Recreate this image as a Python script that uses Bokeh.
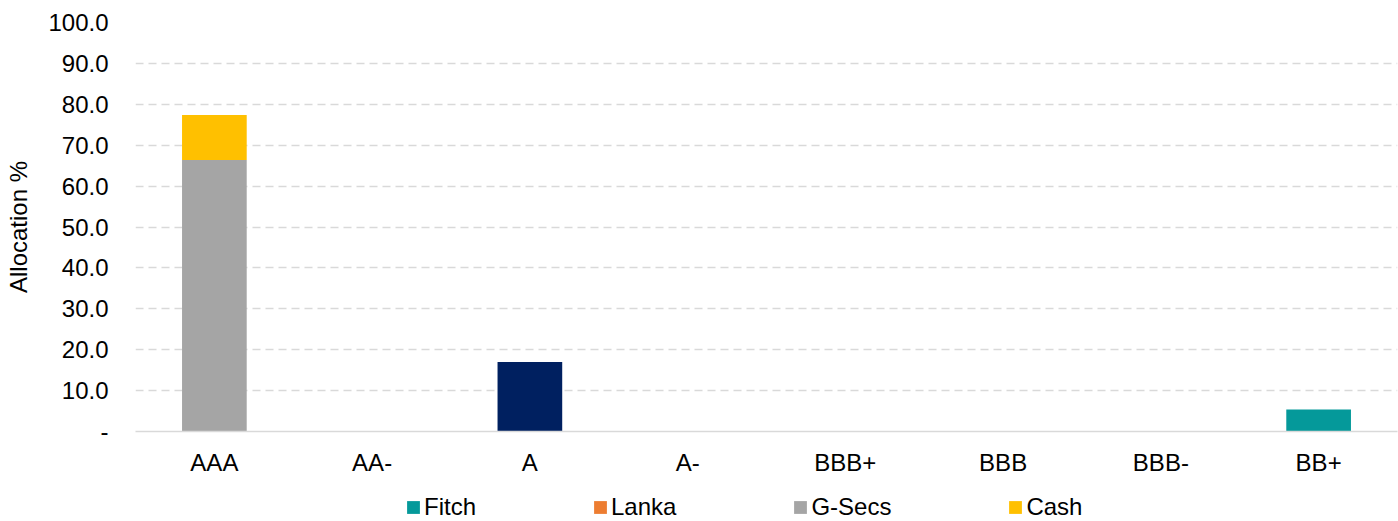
from bokeh.plotting import figure
from bokeh.layouts import column
from bokeh.models import (Range1d, FixedTicker, NumeralTickFormatter, Legend,
                          LegendItem, ColumnDataSource)
from bokeh.embed import file_html
from bokeh.resources import INLINE

# ---- data ----
categories = ["AAA", "AA-", "A", "A-", "BBB+", "BBB", "BBB-", "BB+"]
fitch = [0, 0, 0, 0, 0, 0, 0, 5.4]
lanka = [0, 0, 0, 0, 0, 0, 0, 0]
gsecs = [66.4, 0, 0, 0, 0, 0, 0, 0]
cash = [11.0, 0, 0, 0, 0, 0, 0, 0]
other = [0, 0, 17.0, 0, 0, 0, 0, 0]   # navy bar (no legend entry)
y_ticks = [0, 10, 20, 30, 40, 50, 60, 70, 80, 90, 100]

series_keys = ["fitch", "lanka", "gsecs", "cash", "other"]
series_labels = ["Fitch", "Lanka", "G-Secs", "Cash", None]
colors = ["#05999A", "#ED7D31", "#A5A5A5", "#FFC000", "#002060"]

FONT = "Liberation Sans"
FS = "24px"
W = 1398
H_MAIN = 478
H_LEG = 43

src = ColumnDataSource(dict(cat=categories, fitch=fitch, lanka=lanka,
                            gsecs=gsecs, cash=cash, other=other))

p = figure(x_range=categories, y_range=Range1d(0, 100),
           width=W, height=H_MAIN, output_backend="svg",
           toolbar_location=None,
           min_border_left=135, min_border_right=1,
           min_border_top=22, min_border_bottom=47)
p.outline_line_color = None

rs = p.vbar_stack(series_keys, x="cat", width=0.41, color=colors,
                  line_width=0, source=src)

# axes
p.yaxis.ticker = FixedTicker(ticks=y_ticks)
p.yaxis.formatter = NumeralTickFormatter(format="0.0")
p.yaxis.major_label_overrides = {0: "-"}
p.yaxis.axis_line_color = None
p.yaxis.major_label_standoff = 27
p.yaxis.axis_label = "Allocation %"
p.yaxis.axis_label_text_font_style = "normal"
p.yaxis.axis_label_text_font = FONT
p.yaxis.axis_label_text_font_size = FS
p.yaxis.axis_label_text_color = "black"
p.yaxis.axis_label_standoff = 13

for ax in (p.xaxis, p.yaxis):
    ax.major_label_text_font = FONT
    ax.major_label_text_font_size = FS
    ax.major_label_text_color = "black"
    ax.major_tick_line_color = None
    ax.minor_tick_line_color = None
    ax.major_tick_out = 0
    ax.major_tick_in = 0
    ax.minor_tick_out = 0

p.xaxis.axis_line_color = "#D9D9D9"
p.xaxis.axis_line_width = 1.5
p.xaxis.major_label_standoff = 17

p.xgrid.grid_line_color = None
p.ygrid.grid_line_color = "#D9D9D9"
p.ygrid.grid_line_dash = "8 5"
p.ygrid.grid_line_width = 1.5

# ---- legend strip (separate figure so it is not clipped) ----
pl = figure(width=W, height=H_LEG, output_backend="svg",
            toolbar_location=None, x_range=Range1d(0, 1), y_range=Range1d(0, 1),
            min_border_left=135, min_border_right=1,
            min_border_top=0, min_border_bottom=0)
pl.axis.visible = False
pl.grid.visible = False
pl.outline_line_color = None

items = []
for lab, col in zip(series_labels, colors):
    if lab is None:
        continue
    r = pl.vbar(x=[-5], top=[0], width=0.1, fill_color=col, line_width=0)
    items.append(LegendItem(label=lab, renderers=[r]))

legend = Legend(items=items, orientation="horizontal",
                location=(270, 0), padding=0, margin=0, spacing=116,
                glyph_width=16, glyph_height=16, label_standoff=3,
                label_text_font=FONT, label_text_font_size=FS,
                label_text_color="black", label_height=24,
                border_line_color=None, background_fill_alpha=0)
pl.add_layout(legend, "center")

layout = column(p, pl, spacing=0)
open("out.html", "w").write(file_html(layout, INLINE))
